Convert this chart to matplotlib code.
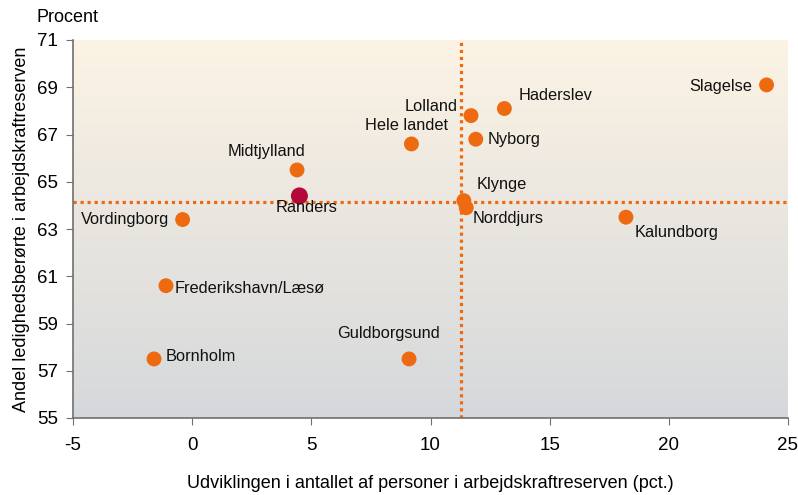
import matplotlib.pyplot as plt
import matplotlib.colors as mcolors
import numpy as np

plt.rcParams["font.family"] = ["Liberation Sans", "DejaVu Sans"]
plt.rcParams["axes.unicode_minus"] = False

names = ["Slagelse", "Haderslev", "Lolland", "Nyborg", "Hele landet", "Midtjylland",
         "Randers", "Klynge", "Norddjurs", "Kalundborg", "Vordingborg",
         "Frederikshavn/Læsø", "Bornholm", "Guldborgsund"]
x_vals = [24.1, 13.1, 11.7, 11.9, 9.2, 4.4, 4.5, 11.4, 11.5, 18.2, -0.4, -1.1, -1.6, 9.1]
y_vals = [69.1, 68.1, 67.8, 66.8, 66.6, 65.5, 64.4, 64.2, 63.9, 63.5, 63.4, 60.6, 57.5, 57.5]

# reference lines (klynge)
ref_x = 11.3
ref_y = 64.15

# label offsets in pixels + alignment
label_pos = {
    "Slagelse": (-14, -2, "right"),
    "Haderslev": (14, 13, "left"),
    "Lolland": (-13, 9, "right"),
    "Nyborg": (12, 0, "left"),
    "Hele landet": (-5, 18, "center"),
    "Midtjylland": (-31, 18, "center"),
    "Randers": (7, -12, "center"),
    "Klynge": (13, 16, "left"),
    "Norddjurs": (6, -11, "left"),
    "Kalundborg": (9, -15, "left"),
    "Vordingborg": (-13, 0, "right"),
    "Frederikshavn/Læsø": (9, -3, "left"),
    "Bornholm": (12, 2, "left"),
    "Guldborgsund": (-21, 25, "center"),
}

orange = "#EE6A10"
red = "#B5083A"

fig = plt.figure(figsize=(7.98, 4.95), dpi=100)
ax = fig.add_axes([73 / 798, 1 - 418 / 495, 715 / 798, 378 / 495])

# gradient background
cmap = mcolors.LinearSegmentedColormap.from_list("bg", ["#D5D8DB", "#FCF3E4"])
grad = np.linspace(0, 1, 256).reshape(-1, 1)
ax.imshow(grad, cmap=cmap, aspect="auto", extent=[0, 1, 0, 1], origin="lower",
          transform=ax.transAxes, zorder=0)

ax.axvline(ref_x, color=orange, lw=2.3, linestyle=(0, (1, 1.2)), zorder=1)
ax.axhline(ref_y, color=orange, lw=2.3, linestyle=(0, (1, 1.2)), zorder=1)

colors = [red if n == "Randers" else orange for n in names]
sizes = [150 if n == "Randers" else 115 for n in names]
ax.scatter(x_vals, y_vals, s=sizes, c=colors, edgecolors="none", zorder=3)

for n, xv, yv in zip(names, x_vals, y_vals):
    dx, dy, ha = label_pos[n]
    ax.annotate(n, (xv, yv), xytext=(dx, dy), textcoords="offset pixels",
                ha=ha, va="center", fontsize=11.8, color="#111111", zorder=4)

ax.set_xlim(-5, 25)
ax.set_ylim(55, 71)
ax.set_xticks(np.arange(-5, 26, 5))
ax.set_yticks(np.arange(55, 72, 2))
ax.tick_params(labelsize=13.5, length=5, color="#707070", direction="out")
ax.tick_params(axis="x", pad=9)
ax.tick_params(axis="y", pad=6)

for side in ["top", "right"]:
    ax.spines[side].set_visible(False)
for side in ["left", "bottom"]:
    ax.spines[side].set_color("#707070")
    ax.spines[side].set_linewidth(1.2)

ax.set_xlabel("Udviklingen i antallet af personer i arbejdskraftreserven (pct.)",
              fontsize=13, labelpad=15)
ax.set_ylabel("Andel ledighedsberørte i arbejdskraftreserven", fontsize=13, labelpad=5)
fig.text(37 / 798, 1 - 18 / 495, "Procent", fontsize=13, va="center", ha="left")

fig.savefig("out.png", dpi=100)
